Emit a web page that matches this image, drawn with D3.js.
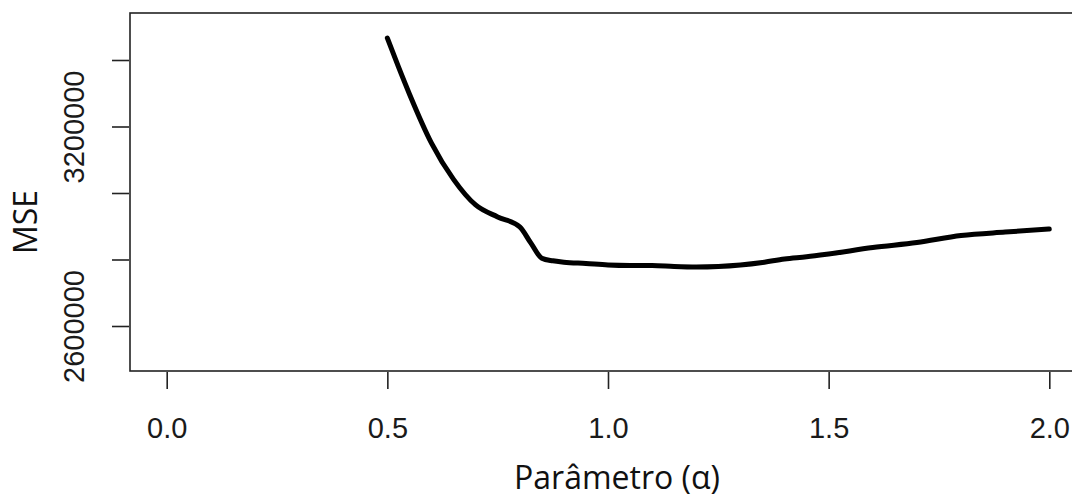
<!DOCTYPE html>
<html>
<head>
<meta charset="utf-8">
<script src="https://cdn.jsdelivr.net/npm/d3@7"></script>
<style>
  html, body { margin: 0; padding: 0; background: #fff; }
  svg { display: block; }
</style>
</head>
<body>
<div id="chart"></div>
<script>
// ---- data ----
const alphaValues = [0.5, 0.525, 0.55, 0.6, 0.65, 0.7, 0.75, 0.8, 0.825, 0.85, 0.875, 0.9, 0.95, 1.0, 1.05, 1.1, 1.15, 1.2, 1.25, 1.3, 1.35, 1.4, 1.45, 1.5, 1.6, 1.7, 1.8, 1.9, 2.0];
const mseValues   = [3466000, 3380000, 3298000, 3150000, 3041000, 2964000, 2928000, 2898000, 2850000, 2804000, 2796000, 2792000, 2788000, 2783500, 2782000, 2782000, 2779000, 2777500, 2779000, 2783500, 2791000, 2801500, 2808000, 2816500, 2836000, 2851000, 2872000, 2882500, 2891500];
const xTickValues = [0.0, 0.5, 1.0, 1.5, 2.0];
const xTickLabels = ["0.0", "0.5", "1.0", "1.5", "2.0"];
const yTickValues = [2600000, 2800000, 3000000, 3200000, 3400000];
const yTickLabels = ["2600000", "", "", "3200000", ""];
const xTitle = "Parâmetro (α)";
const yTitle = "MSE";

// ---- layout ----
const W = 1072, H = 498;
const svg = d3.select("#chart").append("svg").attr("width", W).attr("height", H);

const x = d3.scaleLinear().domain([0, 2]).range([166.7, 1049.3]);
const y = d3.scaleLinear().domain([2600000, 3400000]).range([326, 60]);

const frame = { left: 130, top: 13, bottom: 371, right: 1095 };

// frame box
svg.append("rect")
  .attr("x", frame.left).attr("y", frame.top)
  .attr("width", frame.right - frame.left).attr("height", frame.bottom - frame.top)
  .attr("fill", "none").attr("stroke", "#222").attr("stroke-width", 1.6);

// x axis
const xLabelMap = new Map(xTickValues.map((v, i) => [v, xTickLabels[i]]));
const xAxis = svg.append("g")
  .attr("transform", `translate(0,${frame.bottom + 1})`)
  .call(d3.axisBottom(x).tickValues(xTickValues).tickSize(17).tickSizeOuter(0)
        .tickFormat(d => xLabelMap.get(d)));
xAxis.select(".domain").remove();
xAxis.selectAll(".tick line").attr("stroke", "#222").attr("stroke-width", 1.6);
xAxis.selectAll(".tick text")
  .attr("y", 0).attr("dy", 0)
  .attr("transform", "translate(0,66)")
  .attr("fill", "#1a1a1a")
  .style("font-family", "'Liberation Sans', Arial, sans-serif")
  .style("font-size", "29px");

// y axis
const yLabelMap = new Map(yTickValues.map((v, i) => [v, yTickLabels[i]]));
const yAxis = svg.append("g")
  .attr("transform", `translate(${frame.left - 1},0)`)
  .call(d3.axisLeft(y).tickValues(yTickValues).tickSize(17).tickSizeOuter(0)
        .tickFormat(d => yLabelMap.get(d)));
yAxis.select(".domain").remove();
yAxis.selectAll(".tick line").attr("stroke", "#222").attr("stroke-width", 1.6);
yAxis.selectAll(".tick text")
  .attr("x", 0).attr("dy", 0)
  .attr("text-anchor", "middle")
  .attr("transform", "translate(-45,0) rotate(-90)")
  .attr("fill", "#1a1a1a")
  .style("font-family", "'Liberation Sans', Arial, sans-serif")
  .style("font-size", "29px");

// titles
svg.append("text")
  .attr("x", 617).attr("y", 489)
  .attr("text-anchor", "middle")
  .attr("fill", "#111")
  .style("font-family", "'Open Sans', sans-serif")
  .style("font-size", "32px")
  .text(xTitle);

svg.append("text")
  .attr("transform", "translate(37,222) rotate(-90)")
  .attr("text-anchor", "middle")
  .attr("fill", "#111")
  .style("font-family", "'Open Sans', sans-serif")
  .style("font-size", "32px")
  .text(yTitle);

// line
const pts = alphaValues.map((a, i) => [a, mseValues[i]]);
svg.append("path")
  .datum(pts)
  .attr("fill", "none")
  .attr("stroke", "#000")
  .attr("stroke-width", 5)
  .attr("stroke-linejoin", "round")
  .attr("stroke-linecap", "round")
  .attr("d", d3.line().x(d => x(d[0])).y(d => y(d[1])).curve(d3.curveMonotoneX));
</script>
</body>
</html>
